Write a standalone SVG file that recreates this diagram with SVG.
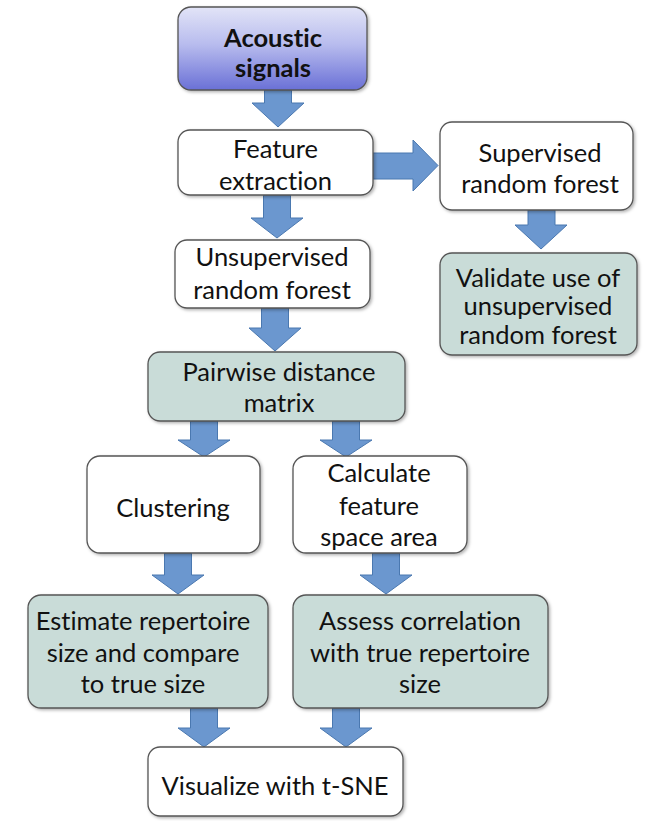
<svg xmlns="http://www.w3.org/2000/svg" width="653" height="821" viewBox="0 0 653 821">
<defs>
<linearGradient id="gBlue" x1="0" y1="0" x2="0" y2="1">
<stop offset="0" stop-color="#e2e4f7"/>
<stop offset="0.45" stop-color="#b8bcee"/>
<stop offset="1" stop-color="#6a70d6"/>
</linearGradient>
<filter id="sh" x="-10%" y="-10%" width="130%" height="130%">
<feDropShadow dx="1.5" dy="1.5" stdDeviation="1.5" flood-color="#000" flood-opacity="0.3"/>
</filter>
<style>
.box{fill:#ffffff;stroke:#555;stroke-width:1.3;filter:url(#sh)}
.teal{fill:#c9dcd8;stroke:#555;stroke-width:1.3;filter:url(#sh)}
.blue{fill:url(#gBlue);stroke:#555;stroke-width:1.3;filter:url(#sh)}
.t{font-family:Lato,"Open Sans","Liberation Sans",sans-serif;font-size:25.5px;fill:#111;text-anchor:middle;font-variant-ligatures:none}
.b{font-weight:bold}
.arr{fill:#6b97cf;stroke:#4a78b0;stroke-width:1}
</style>
</defs>
<g id="connectors">
<polygon class="arr" points="264.5,90 291.5,90 291.5,103 304,103 278,127 252,103 264.5,103"/>
<polygon class="arr" points="373,153 413,153 413,140 438,165.5 413,191 413,179 373,179"/>
<polygon class="arr" points="263.5,195 290.5,195 290.5,218 303,218 277,238 251,218 263.5,218"/>
<polygon class="arr" points="261.5,308 288.5,308 288.5,328 301,328 275,351 249,328 261.5,328"/>
<polygon class="arr" points="528,210 555,210 555,225 567,225 541,249 515,225 528,225"/>
<polygon class="arr" points="190.5,421 217.5,421 217.5,440 230,440 204,457 178,440 190.5,440"/>
<polygon class="arr" points="332.5,421 359.5,421 359.5,440 372,440 346,457 320,440 332.5,440"/>
<polygon class="arr" points="164.5,553 191.5,553 191.5,575 204,575 178,594 152,575 164.5,575"/>
<polygon class="arr" points="372.5,553 399.5,553 399.5,575 412,575 386,594 360,575 372.5,575"/>
<polygon class="arr" points="190.5,708 217.5,708 217.5,728 230,728 204,747 178,728 190.5,728"/>
<polygon class="arr" points="332.5,708 359.5,708 359.5,728 372,728 346,747 320,728 332.5,728"/>
</g>
<g id="acoustic">
<rect class="blue" x="178" y="7" width="189" height="83" rx="13"/>
<text class="t b" x="273" y="47">Acoustic</text>
<text class="t b" x="273" y="77">signals</text>
</g>
<g id="feature">
<rect class="box" x="178" y="130" width="195" height="65" rx="12"/>
<text class="t" x="275.5" y="158">Feature</text>
<text class="t" x="275.5" y="190">extraction</text>
</g>
<g id="supervised">
<rect class="box" x="440" y="122" width="193" height="88" rx="12"/>
<text class="t" x="540" y="162">Supervised</text>
<text class="t" x="540" y="193">random forest</text>
</g>
<g id="validate">
<rect class="teal" x="440" y="253" width="197" height="102" rx="12"/>
<text class="t" x="538" y="287">Validate use of</text>
<text class="t" x="538" y="315">unsupervised</text>
<text class="t" x="538" y="344">random forest</text>
</g>
<g id="unsupervised">
<rect class="box" x="175" y="240" width="195" height="68" rx="12"/>
<text class="t" x="272" y="266">Unsupervised</text>
<text class="t" x="272" y="299">random forest</text>
</g>
<g id="pairwise">
<rect class="teal" x="148" y="352" width="257" height="69" rx="12"/>
<text class="t" x="279" y="381">Pairwise distance</text>
<text class="t" x="279" y="412">matrix</text>
</g>
<g id="clustering">
<rect class="box" x="87" y="456" width="173" height="97" rx="13"/>
<text class="t" x="173" y="517">Clustering</text>
</g>
<g id="calculate">
<rect class="box" x="293" y="456" width="174" height="97" rx="13"/>
<text class="t" x="379" y="482">Calculate</text>
<text class="t" x="379" y="515">feature</text>
<text class="t" x="379" y="546">space area</text>
</g>
<g id="estimate">
<rect class="teal" x="28" y="595" width="240" height="113" rx="13"/>
<text class="t" x="143" y="630">Estimate repertoire</text>
<text class="t" x="143" y="662">size and compare</text>
<text class="t" x="143" y="693">to true size</text>
</g>
<g id="assess">
<rect class="teal" x="293" y="595" width="255" height="113" rx="13"/>
<text class="t" x="420" y="630">Assess correlation</text>
<text class="t" x="420" y="662">with true repertoire</text>
<text class="t" x="420" y="693">size</text>
</g>
<g id="visualize">
<rect class="box" x="148" y="747" width="255" height="69" rx="12"/>
<text class="t" x="275" y="795">Visualize with t-SNE</text>
</g>
</svg>
